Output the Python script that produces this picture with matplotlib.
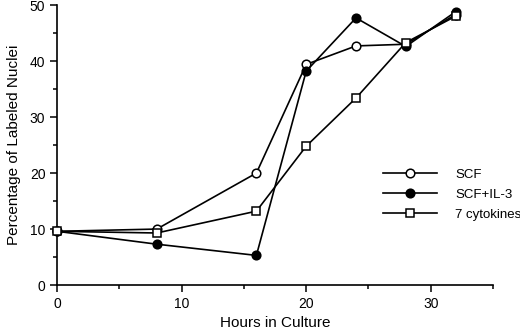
import matplotlib
matplotlib.use("Agg")
import matplotlib.pyplot as plt
from matplotlib.ticker import MultipleLocator

plt.rcParams.update({
    "font.family": ["Liberation Sans", "DejaVu Sans"],
    "font.size": 10,
    "axes.linewidth": 1.2,
})

hours = [0, 8, 16, 20, 24, 28, 32]
scf = [9.6, 10.0, 20.0, 39.4, 42.7, 43.0, 48.3]
scf_il3 = [9.6, 7.3, 5.3, 38.2, 47.7, 42.6, 48.8]
cyto7 = [9.6, 9.3, 13.2, 24.8, 33.4, 43.3, 48.0]
labels = ["SCF", "SCF+IL-3", "7 cytokines"]

fig = plt.figure(figsize=(5.2, 3.35), dpi=100)
ax = fig.add_axes([0.11, 0.149, 0.838, 0.836])

kw = dict(color="black", lw=1.2, ms=6.2, mew=1.1, clip_on=False)
ax.plot(hours, scf, marker="o", mfc="white", label=labels[0], zorder=3, **kw)
ax.plot(hours, scf_il3, marker="o", mfc="black", label=labels[1], zorder=4, **kw)
ax.plot(hours, cyto7, marker="s", mfc="white", label=labels[2], zorder=5, **kw)

ax.set_xlim(0, 35)
ax.set_ylim(0, 50)
ax.xaxis.set_major_locator(MultipleLocator(10))
ax.xaxis.set_minor_locator(MultipleLocator(5))
ax.yaxis.set_major_locator(MultipleLocator(10))
ax.yaxis.set_minor_locator(MultipleLocator(5))
ax.tick_params(which="major", length=5, width=1.1, direction="out", labelsize=10)
ax.tick_params(which="minor", length=3, width=1.1, direction="out")
for s in ("top", "right"):
    ax.spines[s].set_visible(False)

ax.set_xlabel("Hours in Culture", fontsize=11)
ax.set_ylabel("Percentage of Labeled Nuclei", fontsize=11, labelpad=6)

ax.legend(loc="upper left", bbox_to_anchor=(0.748, 0.415), frameon=False,
          borderpad=0, borderaxespad=0, numpoints=1,
          handlelength=4.1, fontsize=9.5, labelspacing=0.57, handletextpad=1.35)

fig.savefig("out.png", facecolor="white")
